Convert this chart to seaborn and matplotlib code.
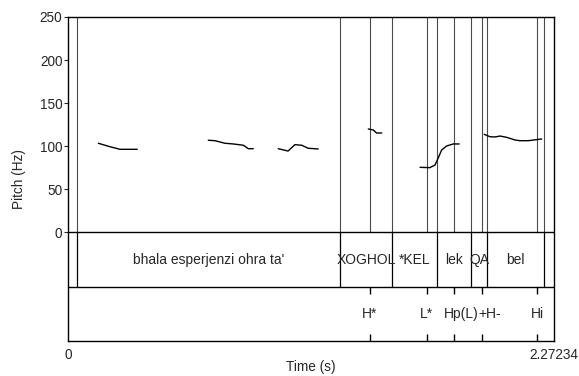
import matplotlib
matplotlib.use("Agg")
import matplotlib.pyplot as plt
import matplotlib.transforms as mtransforms
import seaborn as sns
import pandas as pd

# ---------------- data ----------------
t_end = 2.27234

seg1_t = [0.142, 0.192, 0.243, 0.324]
seg1_f = [103.5, 99.8, 96.5, 96.5]
seg2_t = [0.656, 0.687, 0.734, 0.773, 0.820, 0.843, 0.866]
seg2_f = [107.0, 106.5, 103.5, 102.7, 101.2, 97.2, 97.2]
seg3_t = [0.983, 1.029, 1.061, 1.093, 1.123, 1.170]
seg3_f = [97.2, 94.5, 101.9, 101.2, 97.7, 96.9]
seg4_t = [1.404, 1.427, 1.443, 1.467]
seg4_f = [120.1, 118.9, 115.4, 115.4]
seg5_t = [1.646, 1.692, 1.716, 1.731, 1.747, 1.770, 1.801, 1.829]
seg5_f = [75.6, 75.2, 78.3, 86.4, 95.7, 100.3, 102.7, 102.7]
seg6_t = [1.946, 1.973, 1.996, 2.020, 2.051, 2.090, 2.113, 2.152, 2.215]
seg6_f = [113.9, 111.1, 110.8, 111.9, 110.4, 107.3, 106.5, 106.5, 108.5]

# tier 1 (words): interval boundaries and labels
word_bounds = [0.042, 1.273, 1.516, 1.727, 1.883, 1.960, 2.227]
word_labels = ["bhala esperjenzi ohra ta'", "XOGHOL", "*KEL", "lek", "QA", "bel"]

# tier 2 (tones): point times and labels
tone_times = [1.412, 1.677, 1.803, 1.937, 2.194]
tone_labels = ["H*", "L*", "Hp(L)", "+H-", "Hi"]

y_ticks = [0, 50, 100, 150, 200, 250]

# ---------------- build dataframe ----------------
segs = [(seg1_t, seg1_f), (seg2_t, seg2_f), (seg3_t, seg3_f),
        (seg4_t, seg4_f), (seg5_t, seg5_f), (seg6_t, seg6_f)]
rows = []
for i, (ts, fs) in enumerate(segs):
    for t, f in zip(ts, fs):
        rows.append({"time": t, "pitch": f, "seg": i})
df = pd.DataFrame(rows)

# ---------------- plot ----------------
sns.set_style("white")
plt.rcParams["font.family"] = ["Liberation Sans", "DejaVu Sans"]

W, H = 579, 376
fig = plt.figure(figsize=(W / 100, H / 100), dpi=100)
L, R, T, B = 68, 554, 17, 341
ax = fig.add_axes([L / W, 1 - B / H, (R - L) / W, (B - T) / H])

ymax = 250
ymin = -125.9
tier_sep = -63.2
ax.set_xlim(0, t_end)
ax.set_ylim(ymin, ymax)

vline_color = "#4a4a4a"
# vertical lines in pitch area for all boundaries and points
all_marks = sorted(word_bounds + tone_times)
ax.vlines(all_marks, 0, ymax, color=vline_color, lw=0.8, zorder=1)
# tier 1 boundaries
ax.vlines(word_bounds, tier_sep, 0, color="black", lw=0.9, zorder=1)
# tier 2 point ticks
tick_len = 8.5
ax.vlines(tone_times, tier_sep - tick_len, tier_sep, color="black", lw=1.0,
          zorder=3)
ax.vlines(tone_times, ymin, ymin + tick_len, color="black", lw=1.0, zorder=3)

# horizontal separators
ax.axhline(0, color="black", lw=1)
ax.axhline(tier_sep, color="black", lw=1)

# pitch contour
sns.lineplot(data=df, x="time", y="pitch", units="seg", estimator=None,
             color="black", lw=1.0, ax=ax, legend=False, sort=False)

# tier 1 labels
for a, b, lab in zip(word_bounds[:-1], word_bounds[1:], word_labels):
    ax.text((a + b) / 2, tier_sep / 2, lab, ha="center", va="center", fontsize=10)

# tier 2 labels
shift = mtransforms.ScaledTranslation(7.5 / 100, 0, fig.dpi_scale_trans)
for t, lab in zip(tone_times, tone_labels):
    tr = ax.transData
    if lab in ("Hp(L)", "+H-"):
        tr = ax.transData + shift
    ax.text(t, (tier_sep + ymin) / 2, lab, ha="center", va="center",
            fontsize=10, transform=tr)

# axes styling
for s in ax.spines.values():
    s.set_visible(True)
    s.set_color("black")
    s.set_linewidth(1)

ax.set_yticks(y_ticks)
ax.set_yticklabels([str(v) for v in y_ticks])
ax.set_xticks([0, t_end])
ax.set_xticklabels(["0", "2.27234"])
ax.tick_params(axis="y", direction="out", length=3, width=0.8, pad=1,
               labelsize=9.8, left=True)
ax.tick_params(axis="x", direction="out", length=0, pad=5, labelsize=9.8,
               bottom=True)
ax.set_xlabel("")
ax.set_ylabel("")
fig.text((L + R) / 2 / W, 1 - 367 / H, "Time (s)", ha="center", va="center",
         fontsize=9.8)
fig.text(18.5 / W, 1 - 179 / H, "Pitch (Hz)", rotation=90, ha="center",
         va="center", fontsize=9.8)

fig.savefig("out.png", dpi=100)
